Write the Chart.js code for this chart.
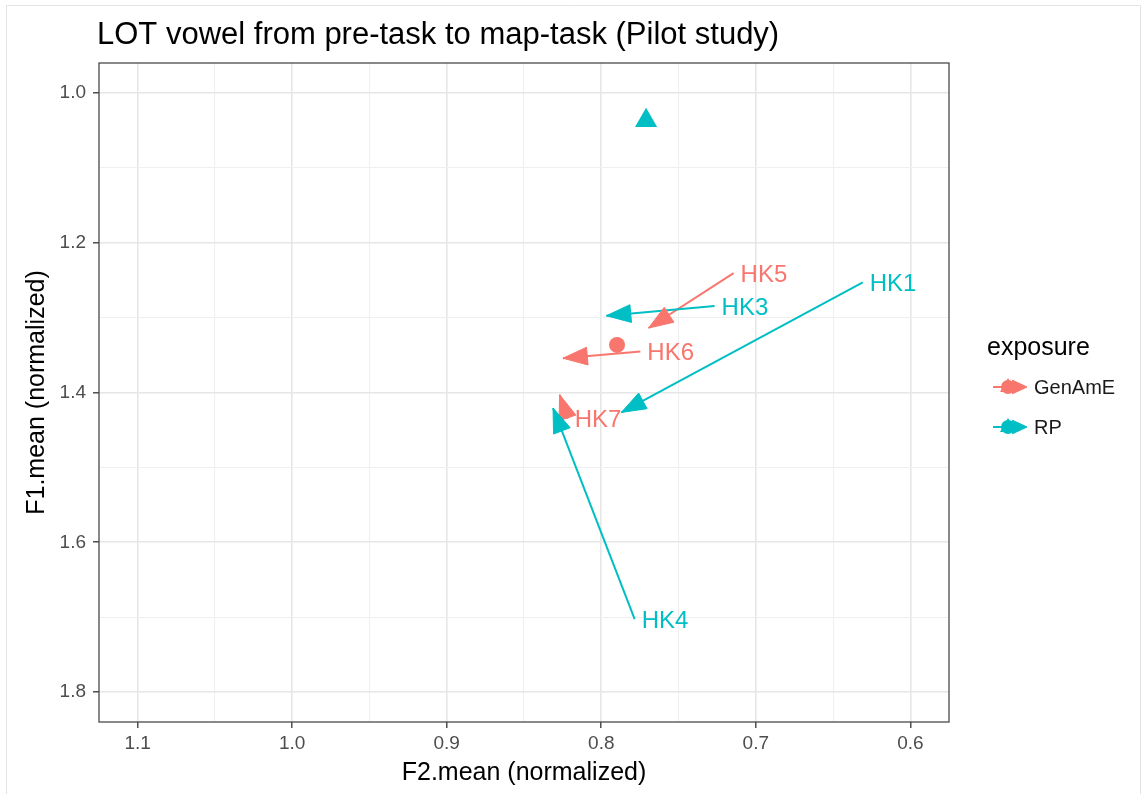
<!DOCTYPE html>
<html><head><meta charset="utf-8">
<script src="https://cdn.jsdelivr.net/npm/chart.js@4/dist/chart.umd.min.js"></script>
<style>html,body{margin:0;padding:0;background:#fff;}canvas{display:block;}</style>
</head><body>
<canvas id="c" width="1144" height="794"></canvas>
<script>
const chartTitle = 'LOT vowel from pre-task to map-task (Pilot study)';
const xAxisTitle = 'F2.mean (normalized)';
const yAxisTitle = 'F1.mean (normalized)';
const legendTitle = 'exposure';
const exposureLevels = ['GenAmE', 'RP'];
const exposureColors = ['#F8766D', '#00BFC4'];

// arrows: from pre-task (label end) to map-task (arrow head)
const speakers        = ['HK5', 'HK6', 'HK7', 'HK1', 'HK3', 'HK4'];
const speakerExposure = ['GenAmE', 'GenAmE', 'GenAmE', 'RP', 'RP', 'RP'];
const preF2 = [0.7144, 0.7747, 0.8217, 0.6308, 0.7267, 0.7784];
const preF1 = [1.2406, 1.3454, 1.4350, 1.2530, 1.2846, 1.7027];
const mapF2 = [0.7694, 0.8248, 0.8269, 0.7870, 0.7967, 0.8312];
const mapF1 = [1.3139, 1.3542, 1.4030, 1.4266, 1.2975, 1.4208];

// single points
const singleExposure = ['GenAmE', 'RP'];
const singleF2 = [0.7898, 0.7710];
const singleF1 = [1.3365, 1.0369];

const xMajorTicks = [0.6, 0.7, 0.8, 0.9, 1.0, 1.1];
const xMinorTicks = [0.65, 0.75, 0.85, 0.95, 1.05];
const yMajorTicks = [1.0, 1.2, 1.4, 1.6, 1.8];
const yMinorTicks = [1.1, 1.3, 1.5, 1.7];
const xLimits = [0.575, 1.125];
const yLimits = [0.96, 1.84];

const FONT = '"Liberation Sans", Arial, Helvetica, sans-serif';
const colorOf = e => exposureColors[exposureLevels.indexOf(e)];
const isMajor = (v, arr) => arr.some(m => Math.abs(m - v) < 1e-9);

const datasets = [];
datasets.push({
  label: 'single',
  data: singleF2.map((x, i) => ({x, y: singleF1[i]})),
  pointStyle: singleExposure.map(e => e === 'RP' ? 'triangle' : 'circle'),
  pointRadius: singleExposure.map(e => e === 'RP' ? 12.8 : 8),
  backgroundColor: singleExposure.map(colorOf),
  borderColor: singleExposure.map(colorOf),
  borderWidth: 0,
  showLine: false
});
for (let i = speakers.length - 1; i >= 0; i--) {
  datasets.push({
    label: speakers[i],
    segIndex: i,
    data: [{x: preF2[i], y: preF1[i]}, {x: mapF2[i], y: mapF1[i]}],
    showLine: true,
    borderColor: colorOf(speakerExposure[i]),
    backgroundColor: colorOf(speakerExposure[i]),
    borderWidth: 2,
    pointRadius: 0,
    pointHoverRadius: 0,
    fill: false
  });
}

function arrowHead(ctx, x0, y0, x1, y1, len, ang, color) {
  const a = Math.atan2(y1 - y0, x1 - x0);
  ctx.beginPath();
  ctx.moveTo(x1, y1);
  ctx.lineTo(x1 - len * Math.cos(a - ang), y1 - len * Math.sin(a - ang));
  ctx.lineTo(x1 - len * Math.cos(a + ang), y1 - len * Math.sin(a + ang));
  ctx.closePath();
  ctx.fillStyle = color;
  ctx.strokeStyle = color;
  ctx.lineWidth = 1;
  ctx.fill();
  ctx.stroke();
}

const decor = {
  id: 'decor',
  beforeDraw(chart) {
    const ctx = chart.ctx;
    ctx.save();
    ctx.fillStyle = '#fff';
    ctx.fillRect(0, 0, chart.width, chart.height);
    ctx.strokeStyle = '#e3e3e3';
    ctx.lineWidth = 1;
    ctx.beginPath();
    ctx.moveTo(6.5, 794); ctx.lineTo(6.5, 5.5); ctx.lineTo(1140.5, 5.5); ctx.lineTo(1140.5, 794);
    ctx.stroke();
    ctx.restore();
  },
  afterDatasetsDraw(chart) {
    const ctx = chart.ctx;
    const ca = chart.chartArea;
    ctx.save();
    ctx.beginPath();
    ctx.rect(ca.left, ca.top, ca.right - ca.left, ca.bottom - ca.top);
    ctx.clip();
    for (let i = 0; i < speakers.length; i++) {
      const di = chart.data.datasets.findIndex(d => d.segIndex === i);
      const meta = chart.getDatasetMeta(di);
      const p0 = meta.data[0], p1 = meta.data[1];
      arrowHead(ctx, p0.x, p0.y, p1.x, p1.y, 26, 20 * Math.PI / 180, colorOf(speakerExposure[i]));
    }
    ctx.font = '24px ' + FONT;
    ctx.textAlign = 'left';
    ctx.textBaseline = 'middle';
    const xs = chart.scales.x, ys = chart.scales.y;
    for (let i = 0; i < speakers.length; i++) {
      ctx.fillStyle = colorOf(speakerExposure[i]);
      ctx.fillText(speakers[i], xs.getPixelForValue(preF2[i]) + 7, ys.getPixelForValue(preF1[i]) + 2);
    }
    ctx.restore();
    ctx.save();
    ctx.strokeStyle = '#4a4a4a';
    ctx.lineWidth = 1.3;
    ctx.strokeRect(ca.left, ca.top, ca.right - ca.left, ca.bottom - ca.top);
    ctx.restore();
  },
  afterDraw(chart) {
    const ctx = chart.ctx;
    ctx.save();
    ctx.fillStyle = '#000';
    ctx.font = '31px ' + FONT;
    ctx.textAlign = 'left';
    ctx.textBaseline = 'middle';
    ctx.fillText(chartTitle, 97, 35);
    ctx.font = '25px ' + FONT;
    ctx.fillText(legendTitle, 987, 348);
    exposureLevels.forEach((lvl, k) => {
      const cy = 387 + k * 40;
      const col = exposureColors[k];
      ctx.strokeStyle = col; ctx.fillStyle = col; ctx.lineWidth = 2;
      ctx.beginPath(); ctx.moveTo(993, cy); ctx.lineTo(1024, cy); ctx.stroke();
      arrowHead(ctx, 993, cy, 1027, cy, 16, 25 * Math.PI / 180, col);
      ctx.beginPath(); ctx.arc(1008, cy, 7, 0, Math.PI * 2); ctx.fill();
      ctx.beginPath();
      ctx.moveTo(1008, cy - 9); ctx.lineTo(1016, cy + 5); ctx.lineTo(1000, cy + 5); ctx.closePath(); ctx.fill();
      ctx.fillStyle = '#1a1a1a';
      ctx.font = '20px ' + FONT;
      ctx.fillText(lvl, 1034, cy + 1);
    });
    ctx.restore();
  }
};

const tickCfg = (majors, minors) => ({
  afterBuildTicks: s => {
    s.ticks = majors.concat(minors).sort((a, b) => a - b).map(v => ({value: v}));
  }
});

new Chart(document.getElementById('c'), {
  type: 'scatter',
  data: {datasets},
  options: {
    responsive: false,
    animation: false,
    devicePixelRatio: 1,
    layout: {padding: {left: 0, right: 195, top: 63, bottom: 0}},
    plugins: {legend: {display: false}, title: {display: false}, tooltip: {enabled: false}},
    scales: {
      x: {
        type: 'linear', reverse: true, min: xLimits[0], max: xLimits[1],
        ...tickCfg(xMajorTicks, xMinorTicks),
        afterFit: s => { s.height = 72; },
        grid: {
          color: c => isMajor(c.tick.value, xMajorTicks) ? '#e6e6e6' : '#efefef',
          lineWidth: c => isMajor(c.tick.value, xMajorTicks) ? 1.6 : 1.1,
          drawTicks: true, tickLength: 6,
          tickColor: c => isMajor(c.tick.value, xMajorTicks) ? '#333' : 'rgba(0,0,0,0)',
          tickWidth: 1.3
        },
        border: {display: false},
        ticks: {
          autoSkip: false, maxRotation: 0, padding: 4,
          color: '#4d4d4d', font: {family: FONT, size: 19},
          callback: v => isMajor(v, xMajorTicks) ? v.toFixed(1) : ''
        },
        title: {display: true, text: xAxisTitle, color: '#000', font: {family: FONT, size: 25}, padding: {top: 0, bottom: 6}}
      },
      y: {
        type: 'linear', reverse: true, min: yLimits[0], max: yLimits[1],
        ...tickCfg(yMajorTicks, yMinorTicks),
        afterFit: s => { s.width = 99; },
        grid: {
          color: c => isMajor(c.tick.value, yMajorTicks) ? '#e6e6e6' : '#efefef',
          lineWidth: c => isMajor(c.tick.value, yMajorTicks) ? 1.6 : 1.1,
          drawTicks: true, tickLength: 6,
          tickColor: c => isMajor(c.tick.value, yMajorTicks) ? '#333' : 'rgba(0,0,0,0)',
          tickWidth: 1.3
        },
        border: {display: false},
        ticks: {
          autoSkip: false, padding: 7,
          color: '#4d4d4d', font: {family: FONT, size: 19},
          callback: v => isMajor(v, yMajorTicks) ? v.toFixed(1) : ''
        },
        title: {display: true, text: yAxisTitle, color: '#000', font: {family: FONT, size: 25}, padding: {top: 22, bottom: 0}}
      }
    }
  },
  plugins: [decor]
});
</script>
</body></html>
